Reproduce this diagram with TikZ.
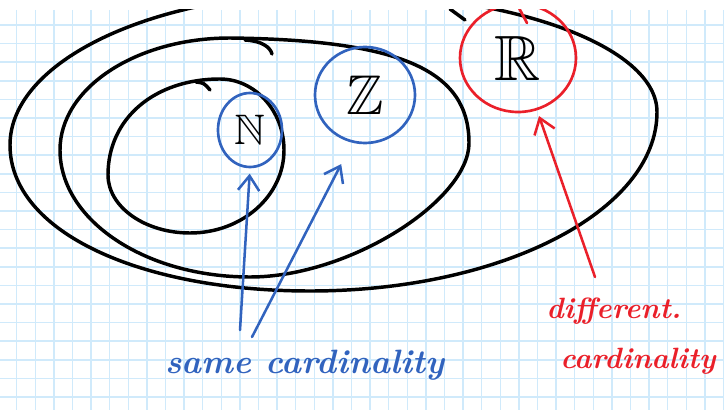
\documentclass[tikz,border=0pt]{standalone}
\usepackage{amssymb}
\usetikzlibrary{arrows.meta,shapes.geometric}
\definecolor{penblue}{RGB}{49,99,190}
\definecolor{penred}{RGB}{234,32,42}
\definecolor{gridblue}{RGB}{208,234,251}
\tikzset{
gridline/.style={draw=gridblue, line width=1.1pt},
setline/.style={draw=black, line width=2.6pt, line cap=round, line join=round},
bluecirc/.style={ellipse, draw=penblue, line width=2pt, inner sep=0pt},
redcirc/.style={ellipse, draw=penred, line width=2pt, inner sep=0pt},
bluearrow/.style={draw=penblue, line width=1.9pt, line cap=round, -{Straight Barb[length=11pt,width=16pt]}},
redarrow/.style={draw=penred, line width=1.9pt, line cap=round, -{Straight Barb[length=11pt,width=16pt]}},
handtext/.style={anchor=base west, inner sep=0pt, font=\bfseries\itshape\fontsize{#1}{#1}\selectfont},
setlabel/.style={font=\fontsize{#1}{#1}\selectfont}}
\begin{document}
\begin{tikzpicture}[x=0.75pt,y=0.75pt,yscale=-1,xscale=1]
\useasboundingbox (0,0) rectangle (724,410);
\begin{scope}
\clip (0,10) rectangle (724,410);
%Grid paper
\foreach \i in {0,...,38} \draw[gridline] ({16.7+18.6*\i},10) -- ({16.7+18.6*\i},410);
\foreach \j in {0,...,20} \draw[gridline] (0,{25+18.6*\j}) -- (724,{25+18.6*\j});

%Shape: Ellipse (outer)
\draw[setline] (10,145) .. controls (10,61) and (153,-7) .. (330,-7)
  .. controls (511,-7) and (657,46) .. (657,112)
  .. controls (657,211) and (502,291) .. (310,291)
  .. controls (140,291) and (10,232) .. cycle;
\draw[setline] (450,9) -- (465,20);
%Shape: Ellipse (middle)
\draw[setline] (60,150) .. controls (60,88) and (136,38) .. (230,38)
  .. controls (400,40) and (469,70) .. (469,143)
  .. controls (469,200) and (350,277) .. (250,277)
  .. controls (145,277) and (60,220) .. cycle;
\draw[setline] (245,40) .. controls (262,41) and (270,47) .. (272,54);
%Shape: Ellipse (inner)
\draw[setline] (108,175) .. controls (108,118) and (155,79) .. (220,79)
  .. controls (255,79) and (284,111) .. (284,150)
  .. controls (284,196) and (242,233) .. (190,233)
  .. controls (145,233) and (108,207) .. cycle;
\draw[setline] (196,82) .. controls (204,83) .. (210,90);

%Shape: Circles
\node[bluecirc, minimum width=48pt, minimum height=55.5pt, setlabel=32] (N) at (250,130) {$\mathbb{N}$};
\node[bluecirc, minimum width=75pt, minimum height=72pt, setlabel=42] (Z) at (365,95) {$\mathbb{Z}$};
\node[redcirc, minimum width=87pt, minimum height=81pt, setlabel=48] (R) at (518,58) {$\mathbb{R}$};
\draw[penred, line width=2pt, line cap=round] (519,8) -- (527,23);

% Text Node
\node[handtext=25.3, text=penblue] (same) at (165,373) {same cardinality};
\node[handtext=22, text=penred] (diff) at (546,318) {different.};
\node[handtext=22, text=penred] (card) at (560,368) {cardinality};

%Straight Lines
\coordinate (s1) at (240,330);
\coordinate (s2) at (252,337);
\coordinate (d1) at (595,277);
\draw[bluearrow, shorten >=4pt] (s1) -- (N.south);
\draw[bluearrow, shorten >=18pt] (s2) -- (Z.255);
\draw[redarrow, shorten >=4.5pt] (d1) -- (R.290);
\end{scope}
\end{tikzpicture}
\end{document}
